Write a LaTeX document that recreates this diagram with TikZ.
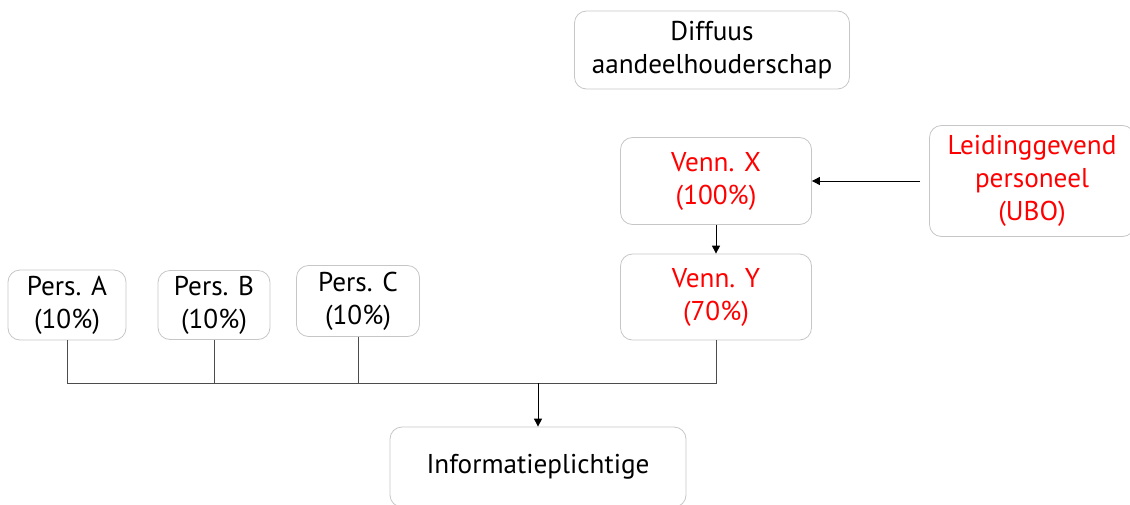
\documentclass[tikz,border=0pt]{standalone}
\usepackage{fontspec}
\setmainfont{PT Sans}
\usetikzlibrary{arrows.meta}

\tikzset{
  box/.style={draw=gray!45, rounded corners=6pt, align=center, inner sep=0pt,
    font=\fontsize{13.6}{16.5}\selectfont},
  redbox/.style={box, text=red},
  link/.style={draw=black!70, line width=0.5pt},
  arrow/.style={link, draw=black, -{Triangle[length=4pt,width=4pt]}}
}

\begin{document}
\begin{tikzpicture}[x=0.5pt, y=-0.5pt]
    \useasboundingbox (0,0) rectangle (1130,504);

    \node[box, minimum width=137.5pt, minimum height=39pt] (diffuus) at (712, 50) {Diffuus\\aandeelhouderschap};
    \node[redbox, minimum width=95.5pt, minimum height=43.5pt] (vennX) at (716, 181) {Venn. X\\(100\%)};
    \node[redbox, minimum width=95.5pt, minimum height=43pt] (vennY) at (716, 297) {Venn. Y\\(70\%)};
    \node[redbox, minimum width=102.5pt, minimum height=55.5pt] (leiding) at (1032, 181) {Leidinggevend\\personeel\\(UBO)};
    \node[box, minimum width=59pt, minimum height=35pt] (persA) at (67, 305) {Pers. A\\(10\%)};
    \node[box, minimum width=56pt, minimum height=34.5pt] (persB) at (214, 305) {Pers. B\\(10\%)};
    \node[box, minimum width=61.5pt, minimum height=35.5pt] (persC) at (358, 301) {Pers. C\\(10\%)};
    \node[box, minimum width=148pt, minimum height=40pt] (info) at (538, 467) {Informatieplichtige};

    \coordinate (join) at (538, 383);

    \draw[link] (persA.south) |- (join);
    \draw[link] (persB.south) |- (join);
    \draw[link] (persC.south) |- (join);
    \draw[link] (vennY.south) |- (join);
    \draw[arrow] (join) -- (info.north);
    \draw[arrow] (vennX.south) -- (vennY.north);
    \draw[arrow, shorten <=4.5pt] (leiding.west) -- (vennX.east);
\end{tikzpicture}
\end{document}
